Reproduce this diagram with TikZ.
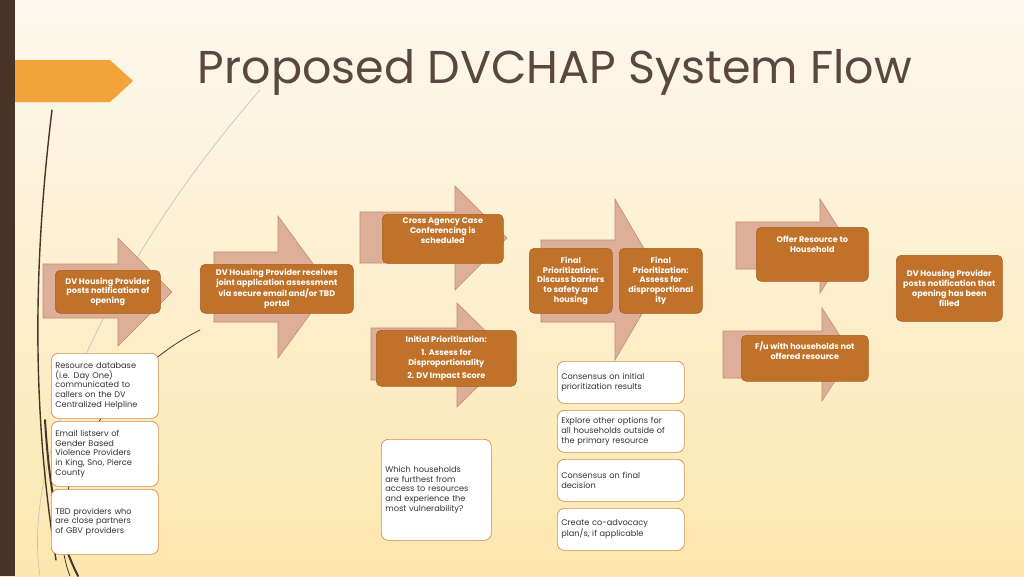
\documentclass[tikz,border=0pt]{standalone}
\usepackage{fontspec}
\setmainfont{Poppins}
\usetikzlibrary{
    positioning % for placing nodes relative to other nodes
}
\definecolor{barbrown}{HTML}{4A3428}
\definecolor{tabgold}{HTML}{F2A33A}
\definecolor{titlegrey}{HTML}{5A4840}
\definecolor{boxorange}{HTML}{C0722A}
\definecolor{boxedge}{HTML}{A85E20}
\definecolor{arrowfill}{HTML}{DDAE98}
\definecolor{arrowedge}{HTML}{C48A70}
\definecolor{wedge}{HTML}{D98A4A}
\definecolor{bgtop}{HTML}{FDF8EE}
\definecolor{bgbot}{HTML}{FDE7AF}

% flow arrow: tail left, head start, tip, tail top, tail bottom, head top, head bottom
\newcommand{\flowarrow}[7]{%
    \fill[arrowfill,draw=arrowedge,line width=0.6pt]
        (#1,#4) -- (#2,#4) -- (#2,#6) -- (#3,{(#6+#7)/2}) -- (#2,#7)
        -- (#2,#5) -- (#1,#5) -- cycle;}

\begin{document}
\begin{tikzpicture}[
    x=1pt,y=-1pt,
    obox/.style  = {rounded corners=5pt,fill=boxorange,draw=boxedge,line width=0.6pt,
                    text=white,align=center,anchor=north west,inner sep=1pt,
                    font=\fontsize{8.1}{9.8}\selectfont\bfseries},
    wbox/.style  = {rounded corners=7pt,fill=white,draw=wedge,line width=0.7pt,
                    text=black!80,align=left,anchor=north west,inner sep=4pt,
                    font=\fontsize{8.2}{9.8}\selectfont},
    deco/.style  = {line width=#1,line cap=round}
]

% background, bar and tab
\shade[top color=bgtop,bottom color=bgbot] (0,0) rectangle (1024,576);
\useasboundingbox (0,0) rectangle (1024,576);
\draw[deco=0.6pt,black!25] (40,576) .. controls (20,450) and (120,250) .. (260,90);
\draw[deco=1.4pt,barbrown] (56,560) .. controls (30,400) and (35,250) .. (52,110);
\draw[deco=0.8pt,barbrown] (70,576) .. controls (40,500) and (100,380) .. (200,330);
\draw[deco=2pt,barbrown] (78,576) .. controls (60,540) and (50,500) .. (45,420);
\fill[barbrown] (0,0) rectangle (15,576);
\fill[tabgold] (15,60) -- (110,60) -- (133,81) -- (110,102) -- (15,102) -- cycle;

\node[text=titlegrey,font=\fontsize{46}{52}\selectfont] (title) at (555,72)
    {Proposed DVCHAP System Flow};

% arrows
\flowarrow{43}{118}{172}{264}{318}{238}{346}
\flowarrow{214}{278}{330}{252}{322}{216}{358}
\flowarrow{360}{455}{507}{212}{263}{186}{290}
\flowarrow{371}{457}{510}{328}{380}{303}{407}
\flowarrow{541}{615}{662}{240}{322}{199}{360}
\flowarrow{736}{820}{850}{222}{269}{199}{293}
\flowarrow{723}{822}{852}{331}{378}{308}{401}

% orange steps
\node[obox,minimum width=105pt,minimum height=43pt] (post)   at (55,270)
    {DV Housing Provider\\posts notification of\\opening};
\node[obox,minimum width=153pt,minimum height=49pt] (recv)   at (200,264)
    {DV Housing Provider receives\\joint application assessment\\via secure email and/or TBD\\portal};
\node[obox,minimum width=121pt,minimum height=49pt] (conf)   at (382,214)
    {Cross Agency Case\\Conferencing is\\scheduled\\[6pt]};
\node[obox,minimum width=140pt,minimum height=56pt] (init)   at (376,330)
    {Initial Prioritization:\\[3pt]1. Assess for\\Disproportionality\\[3pt]2. DV Impact Score};
\node[obox,minimum width=83pt,minimum height=65pt]  (barr)   at (529,248)
    {Final\\Prioritization:\\Discuss barriers\\to safety and\\housing};
\node[obox,minimum width=83pt,minimum height=65pt]  (disp)   at (619,248)
    {Final\\Prioritization:\\Assess for\\disproportional\\ity};
\node[obox,minimum width=112pt,minimum height=54pt] (offer)  at (756,227)
    {Offer Resource to\\Household\\[10pt]};
\node[obox,minimum width=127pt,minimum height=46pt] (follow) at (741,335)
    {F/u with households not\\offered resource\\[6pt]};
\node[obox,minimum width=106pt,minimum height=66pt] (filled) at (896,255)
    {DV Housing Provider\\posts notification that\\opening has been\\filled};

% white notes
\node[wbox,text width=99pt,minimum height=65pt] (helpline) at (51,353)
    {Resource database\\(i.e. Day One)\\communicated to\\callers on the DV\\Centralized Helpline};
\node[wbox,text width=99pt,minimum height=65pt] (listserv) at (51,421)
    {Email listserv of\\Gender Based\\Violence Providers\\in King, Sno, Pierce\\County};
\node[wbox,text width=99pt,minimum height=65pt] (partners) at (51,489)
    {TBD providers who\\are close partners\\of GBV providers\\[10pt]};
\node[wbox,text width=102pt,minimum height=101pt] (vuln)   at (381,439)
    {Which households\\are furthest from\\access to resources\\and experience the\\most vulnerability?\\[6pt]};
\node[wbox,text width=119pt,minimum height=42pt] (consinit) at (557,361)
    {Consensus on initial\\prioritization results};
\node[wbox,text width=119pt,minimum height=42pt] (explore)  at (557,410)
    {Explore other options for\\all households outside of\\the primary resource};
\node[wbox,text width=119pt,minimum height=42pt] (consfin)  at (557,459)
    {Consensus on final\\decision\\[6pt]};
\node[wbox,text width=119pt,minimum height=42pt] (advocacy) at (557,508)
    {Create co-advocacy\\plan/s, if applicable};

\end{tikzpicture}
\end{document}
